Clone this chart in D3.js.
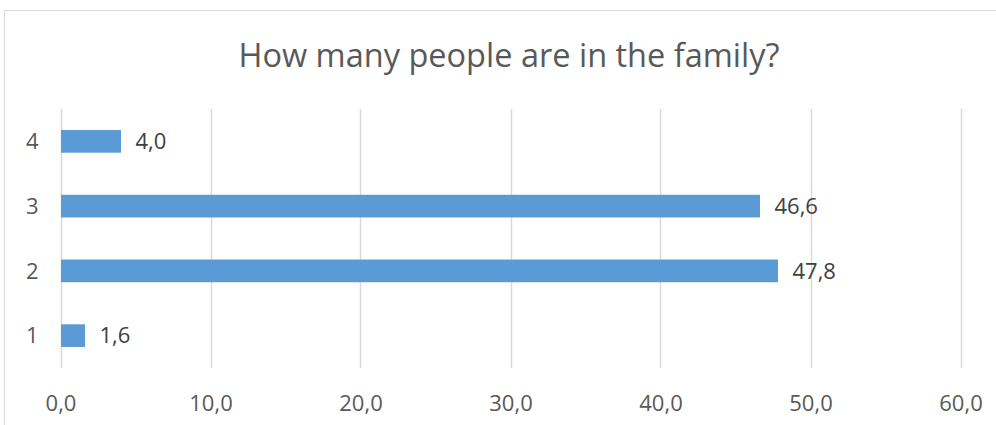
<!DOCTYPE html>
<html>
<head>
<meta charset="utf-8">
<script src="https://cdn.jsdelivr.net/npm/d3@7"></script>
<style>
  html, body { margin: 0; padding: 0; background: #fff; }
  svg { display: block; }
  text { font-family: "Open Sans", "Noto Sans", sans-serif; }
</style>
</head>
<body>
<svg id="chart" width="996" height="425"></svg>
<script>
const title = "How many people are in the family?";
const categories = ["1", "2", "3", "4"];
const values = [1.6, 47.8, 46.6, 4.0];
const xTicks = [0, 10, 20, 30, 40, 50, 60];

const W = 996, H = 425;
const margin = { left: 60.5, right: 36, top: 109, bottom: 57 };
const svg = d3.select("#chart");

// outer border
svg.append("rect")
  .attr("x", 4.5).attr("y", 10.5)
  .attr("width", 1000).attr("height", 500)
  .attr("fill", "none").attr("stroke", "#d9d9d9").attr("stroke-width", 1);

const x = d3.scaleLinear().domain([0, 60]).range([margin.left, margin.left + 900]);
const y = d3.scaleBand().domain(categories.slice().reverse())
  .range([margin.top, H - margin.bottom]).paddingInner(0.65).paddingOuter(0.325);

const fmt = v => d3.format(".1f")(v).replace(".", ",");

// gridlines
svg.append("g").selectAll("line").data(xTicks).join("line")
  .attr("x1", d => Math.round(x(d)) + 0.5).attr("x2", d => Math.round(x(d)) + 0.5)
  .attr("y1", margin.top).attr("y2", H - margin.bottom)
  .attr("stroke", "#d9d9d9").attr("stroke-width", 1.5);

// x axis labels
const xAxis = d3.axisBottom(x).tickValues(xTicks).tickFormat(fmt).tickSize(0).tickPadding(0);
const gx = svg.append("g").attr("transform", `translate(0, ${H - margin.bottom})`).call(xAxis);
gx.select(".domain").remove();
gx.selectAll("text").attr("dy", "0.35em").attr("y", 35)
  .attr("fill", "#595959").style("font-size", "22px");

// y axis labels
const yAxis = d3.axisLeft(y).tickSize(0).tickPadding(0);
const gy = svg.append("g").attr("transform", `translate(${margin.left}, 0)`).call(yAxis);
gy.select(".domain").remove();
gy.selectAll("text").attr("x", -22).attr("dy", "0.35em")
  .attr("text-anchor", "end")
  .attr("fill", "#595959").style("font-size", "22px");

// bars
const data = categories.map((c, i) => ({ c, v: values[i] }));
svg.append("g").selectAll("rect").data(data).join("rect")
  .attr("x", x(0) + 0.5)
  .attr("y", d => y(d.c))
  .attr("width", d => x(d.v) - x(0))
  .attr("height", y.bandwidth())
  .attr("fill", "#5b9bd5");

// data labels
svg.append("g").selectAll("text").data(data).join("text")
  .attr("x", d => x(d.v) + 15)
  .attr("y", d => y(d.c) + y.bandwidth() / 2)
  .attr("dy", "0.35em")
  .attr("fill", "#404040").style("font-size", "22px")
  .text(d => fmt(d.v));

// title
svg.append("text")
  .attr("x", 509).attr("y", 56)
  .attr("dy", "0.35em")
  .attr("text-anchor", "middle")
  .attr("fill", "#595959").style("font-size", "32.5px")
  .text(title);
</script>
</body>
</html>
